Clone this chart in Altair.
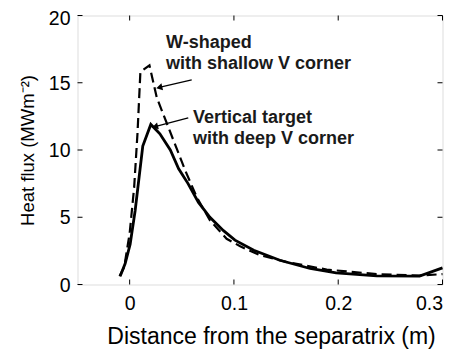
import altair as alt
import pandas as pd
import math

# Solid curve: vertical target with deep V corner
solid_x = [-0.0091, -0.0043, 0.0005, 0.0053, 0.0126, 0.0203, 0.029, 0.039, 0.047, 0.056,
           0.066, 0.077, 0.090, 0.101, 0.119, 0.144, 0.173, 0.198, 0.237, 0.278, 0.300]
solid_y = [0.62, 1.56, 3.0, 5.5, 10.3, 11.9, 11.2, 10.0, 8.6, 7.5,
           6.1, 5.0, 4.0, 3.3, 2.55, 1.8, 1.19, 0.87, 0.64, 0.62, 1.24]

# Dashed curve: W-shaped with shallow V corner
dash_x = [-0.0097, -0.0052, 0.0, 0.0043, 0.0075, 0.0103, 0.019, 0.026, 0.0532, 0.0643,
          0.077, 0.093, 0.106, 0.125, 0.150, 0.189, 0.237, 0.278, 0.300]
dash_y = [0.62, 1.3, 3.8, 7.2, 11.2, 15.8, 16.3, 13.9, 8.5, 6.5,
          4.77, 3.4, 2.84, 2.18, 1.68, 1.11, 0.77, 0.67, 0.77]

x_ticks = [0, 0.1, 0.2, 0.3]
y_ticks = [0, 5, 10, 15, 20]

label_lines = ["W-shaped", "with shallow V corner", "Vertical target", "with deep V corner"]
label_x = [0.0349, 0.0349, 0.0608, 0.0608]
label_y = [17.96, 16.41, 12.41, 10.85]

arrow_x = [0.0595, 0.0562]
arrow_y = [15.22, 12.39]
arrow_x2 = [0.0284, 0.0243]
arrow_y2 = [14.65, 11.74]

W, H = 365, 269
XD = [-0.05, 0.3]
YD = [0, 20]
FONT = "Liberation Sans"

xs = alt.Scale(domain=XD, nice=False, zero=False)
ys = alt.Scale(domain=YD, nice=False, zero=False)

solid = pd.DataFrame({"x": solid_x, "y": solid_y, "o": range(len(solid_x))})
dashed = pd.DataFrame({"x": dash_x, "y": dash_y, "o": range(len(dash_x))})

base_x = alt.X("x:Q", scale=xs,
               axis=alt.Axis(values=x_ticks, format="~g", tickSize=0, grid=False,
                             domain=False, labelFontSize=19.5, labelFont=FONT, labelColor="black",
                             labelPadding=10, title="Distance from the separatrix (m)",
                             titleFontSize=23, titleFont=FONT, titleFontWeight="normal",
                             titleColor="black", titlePadding=12, titleX=W / 2 + 11))
base_y = alt.Y("y:Q", scale=ys,
               axis=alt.Axis(values=y_ticks, tickSize=0, grid=False, domain=False,
                             labelFontSize=19.5, labelFont=FONT, labelColor="black",
                             labelPadding=7.5, title="Heat flux (MWm⁻²)",
                             labelOffset={"condition": {"test": "datum.value == 20", "value": 3},
                                          "value": 0.5},
                             titleFontSize=18.5, titleFont=FONT, titleFontWeight="normal",
                             titleColor="black", titlePadding=11))

solid_line = alt.Chart(solid).mark_line(color="black", strokeWidth=2.8).encode(
    x=base_x, y=base_y, order="o:Q")
dash_line = alt.Chart(dashed).mark_line(color="black", strokeWidth=2.2, strokeDash=[10, 5]).encode(
    x=alt.X("x:Q", scale=xs), y=alt.Y("y:Q", scale=ys), order="o:Q")

# inward ticks
xt = pd.DataFrame({"x": x_ticks})
yt = pd.DataFrame({"y": y_ticks})
tb = alt.Chart(xt).mark_rule(color="black", strokeWidth=1).encode(
    x=alt.X("x:Q", scale=xs), y=alt.value(H), y2=alt.value(H - 5))
tt = alt.Chart(xt).mark_rule(color="black", strokeWidth=1).encode(
    x=alt.X("x:Q", scale=xs), y=alt.value(0), y2=alt.value(5))
tl = alt.Chart(yt).mark_rule(color="black", strokeWidth=1).encode(
    y=alt.Y("y:Q", scale=ys), x=alt.value(0), x2=alt.value(5))
tr = alt.Chart(yt).mark_rule(color="black", strokeWidth=1).encode(
    y=alt.Y("y:Q", scale=ys), x=alt.value(W), x2=alt.value(W - 5))

labels = pd.DataFrame({"x": label_x, "y": label_y, "t": label_lines})
text = alt.Chart(labels).mark_text(align="left", baseline="middle", fontSize=18,
                                   fontWeight="bold", font=FONT, color="#1a1a1a").encode(
    x=alt.X("x:Q", scale=xs), y=alt.Y("y:Q", scale=ys), text="t:N")

# arrows
def ang(i):
    dx = (arrow_x2[i] - arrow_x[i]) / (XD[1] - XD[0]) * W
    dy = -(arrow_y2[i] - arrow_y[i]) / (YD[1] - YD[0]) * H
    return (math.degrees(math.atan2(dx, -dy)) + 360) % 360

arr = pd.DataFrame({"x": arrow_x, "y": arrow_y, "x2": arrow_x2, "y2": arrow_y2,
                    "a": [ang(0), ang(1)]})
shafts = alt.Chart(arr).mark_rule(color="black", strokeWidth=1.3).encode(
    x=alt.X("x:Q", scale=xs), y=alt.Y("y:Q", scale=ys), x2="x2:Q", y2="y2:Q")
heads = alt.Chart(arr).mark_point(shape="triangle-up", filled=True, color="black",
                                  size=50, opacity=1).encode(
    x=alt.X("x2:Q", scale=xs), y=alt.Y("y2:Q", scale=ys), angle=alt.Angle("a:Q", scale=None))

chart = alt.layer(solid_line, dash_line, tb, tt, tl, tr, shafts, heads, text).properties(
    width=W, height=H,
    autosize=alt.AutoSizeParams(type="none"),
    padding={"left": 69.5, "top": 7.5, "right": 8, "bottom": 70},
).configure_view(stroke="black", strokeWidth=1.2).configure(background="white")

chart.save("out.html", embed_options={"renderer": "svg", "actions": False})
